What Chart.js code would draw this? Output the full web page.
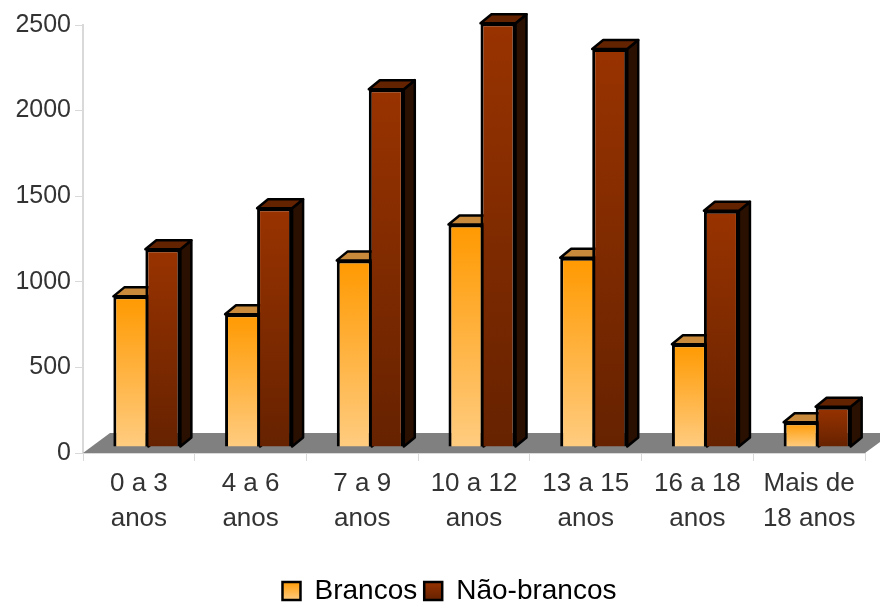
<!DOCTYPE html>
<html>
<head>
<meta charset="utf-8">
<title>Brancos e Não-brancos</title>
<script src="https://cdn.jsdelivr.net/npm/chart.js@4"></script>
<style>
  html, body { margin: 0; padding: 0; background: #fff; }
  canvas { display: block; filter: blur(0.7px); }
</style>
</head>
<body>
<canvas id="myChart" width="880" height="603"></canvas>
<script>
const categories = [["0 a 3", "anos"], ["4 a 6", "anos"], ["7 a 9", "anos"], ["10 a 12", "anos"], ["13 a 15", "anos"], ["16 a 18", "anos"], ["Mais de", "18 anos"]];
const brancos = [880, 775, 1090, 1300, 1105, 600, 145];
const naoBrancos = [1155, 1395, 2090, 2475, 2325, 1380, 235];
const yTicks = [0, 500, 1000, 1500, 2000, 2500];

// bar colours: top of the bar, bottom of the bar, top face, side face
const coresBrancos = ["#ff9900", "#ffcc80", "#c98a3c", "#6b3d00"];
const coresNaoBrancos = ["#993300", "#662200", "#642300", "#2a1000"];

// 3D look
const depthX = 11, depthY = 9;
const shiftX = 8, shiftY = -6;
const floorX = 27, floorY = 20;
const legendShift = 17;

function barGradient(context, cores) {
  const chart = context.chart;
  if (context.parsed === undefined || context.parsed === null || !chart.chartArea) return cores[0];
  const y = chart.scales.y;
  const g = chart.ctx.createLinearGradient(0, y.getPixelForValue(context.parsed.y), 0, y.getPixelForValue(0));
  g.addColorStop(0, cores[0]);
  g.addColorStop(1, cores[1]);
  return g;
}

function swatch(chart, cores) {
  const g = chart.ctx.createLinearGradient(0, 581, 0, 600);
  g.addColorStop(0, cores[0]);
  g.addColorStop(1, cores[1]);
  return g;
}

function face(ctx, pts, color) {
  ctx.beginPath();
  pts.forEach((p, i) => (i ? ctx.lineTo(p[0], p[1]) : ctx.moveTo(p[0], p[1])));
  ctx.closePath();
  ctx.fillStyle = color;
  ctx.fill();
  ctx.strokeStyle = "#000";
  ctx.lineWidth = 2.5;
  ctx.lineJoin = "round";
  ctx.stroke();
}

const bars3d = {
  id: "bars3d",
  afterLayout(chart) {
    // the legend sits a bit right of the centre in the original
    chart.legend.left += legendShift;
    chart.legend.right += legendShift;
  },
  beforeDatasetsDraw(chart) {
    const ctx = chart.ctx;
    const a = chart.chartArea;

    // gray floor
    ctx.save();
    ctx.beginPath();
    ctx.moveTo(a.left, a.bottom);
    ctx.lineTo(a.right, a.bottom);
    ctx.lineTo(a.right + floorX, a.bottom - floorY);
    ctx.lineTo(a.left + floorX, a.bottom - floorY);
    ctx.closePath();
    ctx.fillStyle = "#808080";
    ctx.fill();
    ctx.restore();

    ctx.save();
    ctx.translate(shiftX, shiftY);
    [coresBrancos, coresNaoBrancos].forEach((cores, d) => {
      chart.getDatasetMeta(d).data.forEach((bar) => {
        const p = bar.getProps(["x", "y", "base", "width"], true);
        const l = p.x - p.width / 2, r = p.x + p.width / 2;
        face(ctx, [[r, p.y], [r + depthX, p.y - depthY], [r + depthX, p.base - depthY], [r, p.base]], cores[3]);
        face(ctx, [[l, p.y], [l + depthX, p.y - depthY], [r + depthX, p.y - depthY], [r, p.y]], cores[2]);
      });
    });
  },
  afterDatasetsDraw(chart) {
    chart.ctx.restore();
  },
};

const ctx = document.getElementById("myChart");
new Chart(ctx, {
  type: "bar",
  data: {
    labels: categories,
    datasets: [
      {
        label: "Brancos",
        data: brancos,
        backgroundColor: (c) => barGradient(c, coresBrancos),
        borderColor: "#000",
        borderWidth: 3,
        clip: false,
      },
      {
        label: "Não-brancos",
        data: naoBrancos,
        backgroundColor: (c) => barGradient(c, coresNaoBrancos),
        borderColor: "#000",
        borderWidth: 3,
        clip: false,
      },
    ],
  },
  options: {
    responsive: false,
    animation: false,
    categoryPercentage: 0.573,
    barPercentage: 1.094,
    layout: { padding: { top: 25, right: 15, bottom: -12, left: 0 } },
    plugins: {
      tooltip: { enabled: false },
      legend: {
        position: "bottom",
        labels: {
          color: "#333",
          font: { family: "Liberation Sans", size: 28 },
          boxWidth: 18,
          boxHeight: 18,
          padding: 7,
          generateLabels(chart) {
            return [
              { text: "Brancos", fillStyle: swatch(chart, coresBrancos), strokeStyle: "#000", lineWidth: 2.5, datasetIndex: 0 },
              { text: "Não-brancos", fillStyle: swatch(chart, coresNaoBrancos), strokeStyle: "#000", lineWidth: 2.5, datasetIndex: 1 },
            ];
          },
        },
      },
    },
    scales: {
      x: {
        afterFit(scale) { scale.height = 117; },
        grid: { drawOnChartArea: false, color: "#d9d9d9", tickLength: 8, lineWidth: 1 },
        border: { color: "#d9d9d9", width: 2 },
        ticks: {
          color: "#333",
          maxRotation: 0,
          autoSkip: false,
          padding: 5,
          font: { family: "Liberation Sans", size: 26, lineHeight: 1.35 },
        },
      },
      y: {
        min: 0,
        max: 2500,
        afterFit(scale) { scale.width = 83; },
        afterBuildTicks(scale) { scale.ticks = yTicks.map((v) => ({ value: v })); },
        grid: { drawOnChartArea: false, color: "#d9d9d9", tickLength: 8 },
        border: { color: "#d9d9d9", width: 2 },
        ticks: {
          color: "#333",
          padding: 4,
          font: { family: "Liberation Sans", size: 25 },
          callback: (v) => String(v),
        },
      },
    },
  },
  plugins: [bars3d],
});
</script>
</body>
</html>
